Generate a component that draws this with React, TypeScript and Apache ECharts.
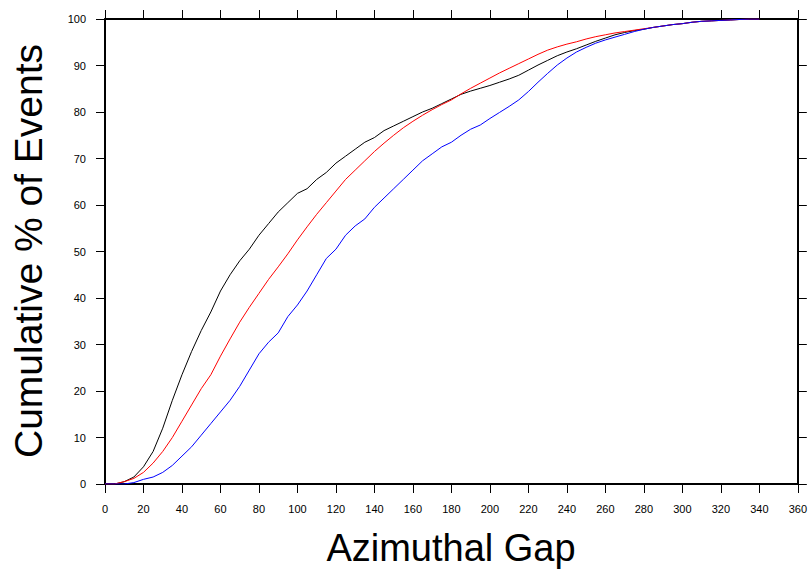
import React, { useEffect, useRef } from "react";
import * as echarts from "echarts";

const gapValues = [
  0, 5, 10, 15, 20, 25, 30, 35, 40, 45, 50, 55, 60, 65, 70, 75, 80, 85, 90, 95,
  100, 105, 110, 115, 120, 125, 130, 135, 140, 145, 150, 155, 160, 165, 170, 175,
  180, 185, 190, 195, 200, 205, 210, 215, 220, 225, 230, 235, 240, 245, 250, 255,
  260, 265, 270, 275, 280, 285, 290, 295, 300, 305, 310, 315, 320, 325, 330, 335, 340,
];

const blackSeries = [
  0, 0, 0.5, 1.5, 3.7, 7, 12, 18, 23.5, 28.5, 33, 37, 41.5, 45, 48, 50.5, 53.5, 56, 58.5, 60.5,
  62.5, 63.5, 65.5, 67, 69, 70.5, 72, 73.5, 74.5, 76, 77, 78, 79, 80, 80.8, 81.8,
  82.8, 83.8, 84.5, 85.1, 85.7, 86.4, 87.1, 87.9, 89, 90.1, 91.1, 92.1, 92.9, 93.6, 94.4, 95.2,
  95.9, 96.6, 97.1, 97.5, 97.8, 98.2, 98.5, 98.8, 99, 99.3, 99.5, 99.6, 99.7, 99.8, 99.9, 100, 100,
];

const redSeries = [
  0, 0, 0.5, 1.2, 2.5, 4.5, 7, 10, 13.5, 17, 20.5, 23.5, 27.5, 31.2, 34.8, 38, 41, 44, 46.7, 49.5,
  52.5, 55.3, 58, 60.5, 63, 65.5, 67.5, 69.5, 71.5, 73.3, 75, 76.6, 78, 79.3, 80.5, 81.6,
  82.6, 83.9, 85.1, 86.2, 87.3, 88.4, 89.4, 90.4, 91.4, 92.4, 93.3, 94, 94.6, 95.1, 95.7, 96.2,
  96.6, 97, 97.3, 97.6, 97.9, 98.2, 98.5, 98.8, 99, 99.3, 99.5, 99.6, 99.7, 99.8, 99.9, 100, 100,
];

const blueSeries = [
  0, 0, 0, 0.3, 1, 1.5, 2.5, 4, 6, 8, 10.5, 13, 15.5, 18, 21, 24.5, 28, 30.5, 32.5, 36,
  38.5, 41.5, 45, 48.5, 50.5, 53.5, 55.5, 57, 59.5, 61.5, 63.5, 65.5, 67.5, 69.5, 71, 72.5,
  73.5, 75, 76.3, 77.2, 78.6, 79.9, 81.2, 82.6, 84.4, 86.4, 88.3, 90.1, 91.6, 92.9, 93.9, 94.8,
  95.5, 96.1, 96.7, 97.3, 97.8, 98.2, 98.5, 98.8, 99, 99.3, 99.5, 99.6, 99.7, 99.8, 99.9, 100, 100,
];

const xTitle = "Azimuthal Gap";
const yTitle = "Cumulative % of Events";

const FONT = "'Liberation Sans', Arial, Helvetica, sans-serif";

export default function App() {
  const ref = useRef<HTMLDivElement>(null);

  useEffect(() => {
    if (!ref.current) return;
    const chart = echarts.init(ref.current, undefined, { renderer: "svg" });
    const pairs = (ys: number[]) => gapValues.map((x, i) => [x, ys[i]]);
    const axisLine = { show: true, onZero: false, lineStyle: { color: "#000", width: 2 } };
    const axisTick = { show: true, inside: false, length: 9, lineStyle: { color: "#000", width: 1 } };
    const axisLabel = { color: "#000", fontSize: 11, fontFamily: FONT, margin: 19 };
    chart.setOption({
      animation: false,
      backgroundColor: "#fff",
      grid: { left: 105, right: 10, top: 19, bottom: 86, containLabel: false },
      xAxis: [
        {
          type: "value", position: "bottom", min: 0, max: 360, interval: 20,
          axisLine, axisTick, axisLabel, splitLine: { show: false },
        },
        {
          type: "value", position: "top", min: 0, max: 360, interval: 20,
          axisLine, axisTick, axisLabel: { show: false }, splitLine: { show: false },
        },
      ],
      yAxis: [
        {
          type: "value", position: "left", min: 0, max: 100, interval: 10,
          axisLine, axisTick, axisLabel, splitLine: { show: false },
        },
        {
          type: "value", position: "right", min: 0, max: 100, interval: 10,
          axisLine, axisTick, axisLabel: { show: false }, splitLine: { show: false },
        },
      ],
      graphic: [
        {
          type: "text", x: 451, y: 548,
          style: {
            text: xTitle, fill: "#000", font: `38px ${FONT}`,
            align: "center", verticalAlign: "middle",
          },
        },
        {
          type: "text", x: 28, y: 251, rotation: Math.PI / 2,
          style: {
            text: yTitle, fill: "#000", font: `39px ${FONT}`,
            align: "center", verticalAlign: "middle",
          },
        },
      ],
      series: [
        {
          name: "black", type: "line", data: pairs(blackSeries), showSymbol: false,
          lineStyle: { color: "#000", width: 1 }, itemStyle: { color: "#000" },
        },
        {
          name: "red", type: "line", data: pairs(redSeries), showSymbol: false,
          lineStyle: { color: "#ff0000", width: 1 }, itemStyle: { color: "#ff0000" },
        },
        {
          name: "blue", type: "line", data: pairs(blueSeries), showSymbol: false,
          lineStyle: { color: "#0000ff", width: 1 }, itemStyle: { color: "#0000ff" },
        },
      ],
    });
    return () => chart.dispose();
  }, []);

  return (
    <div
      ref={ref}
      style={{ position: "fixed", left: 0, top: 0, width: 810, height: 570, background: "#fff" }}
    />
  );
}
